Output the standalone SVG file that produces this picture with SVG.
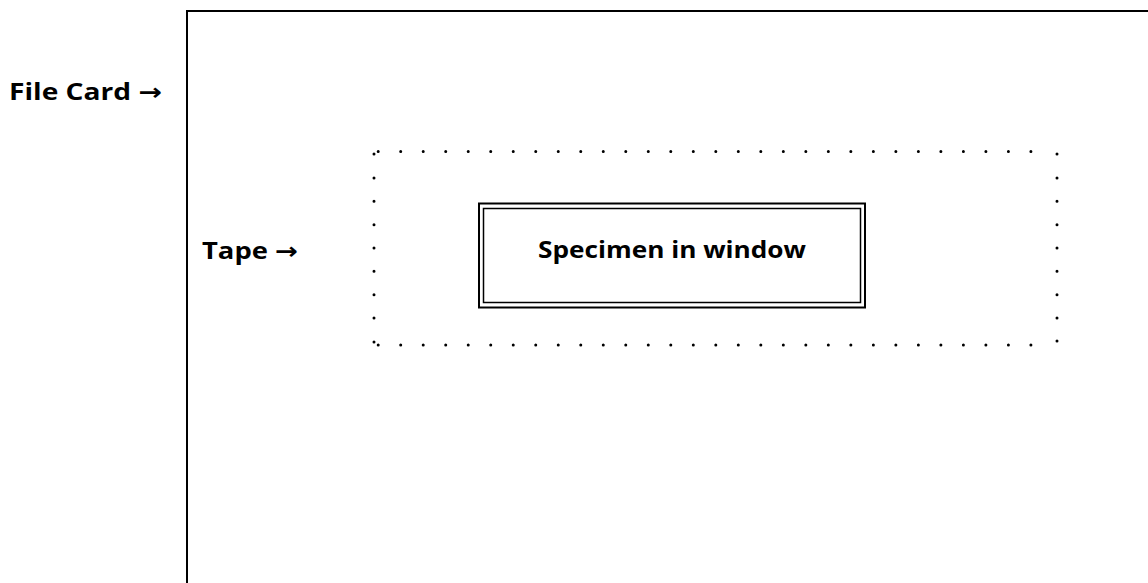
<svg xmlns="http://www.w3.org/2000/svg" width="1148" height="583" viewBox="0 0 1148 583">
<style>
.lbl{font-family:"Open Sans","DejaVu Sans","Liberation Sans",sans-serif;font-weight:bold;font-size:23px;fill:#000}
.dot{fill:none;stroke:#000;stroke-width:3;stroke-linecap:round}
.dc{fill:#000}
</style>
<rect width="1148" height="583" fill="#fff"/>
<g id="file-card">
<path d="M187,583 V11 H1148" fill="none" stroke="#000" stroke-width="2"/>
<text class="lbl" x="9" y="100" textLength="153" lengthAdjust="spacingAndGlyphs">File Card →</text>
</g>
<g id="tape">
<line class="dot" x1="378.2" y1="151.5" x2="1053.4" y2="151.5" stroke-dasharray="0 22.507"/>
<line class="dot" x1="378.2" y1="345" x2="1053.4" y2="345" stroke-dasharray="0 22.507"/>
<line class="dot" x1="374" y1="178" x2="374" y2="318" stroke-dasharray="0 23.333"/>
<line class="dot" x1="1057" y1="178" x2="1057" y2="318" stroke-dasharray="0 23.333"/>
<circle class="dc" cx="374" cy="154" r="1.5"/>
<circle class="dc" cx="1057" cy="154" r="1.5"/>
<circle class="dc" cx="374" cy="342" r="1.5"/>
<circle class="dc" cx="1057" cy="341" r="1.5"/>
<text class="lbl" x="202" y="259" textLength="96" lengthAdjust="spacingAndGlyphs">Tape →</text>
</g>
<g id="specimen">
<rect x="479" y="203.5" width="386" height="104" fill="none" stroke="#000" stroke-width="2"/>
<rect x="483.5" y="208.5" width="377" height="94" fill="none" stroke="#000" stroke-width="1.5"/>
<text class="lbl" x="538" y="258" textLength="268" lengthAdjust="spacingAndGlyphs">Specimen in window</text>
</g>
</svg>
